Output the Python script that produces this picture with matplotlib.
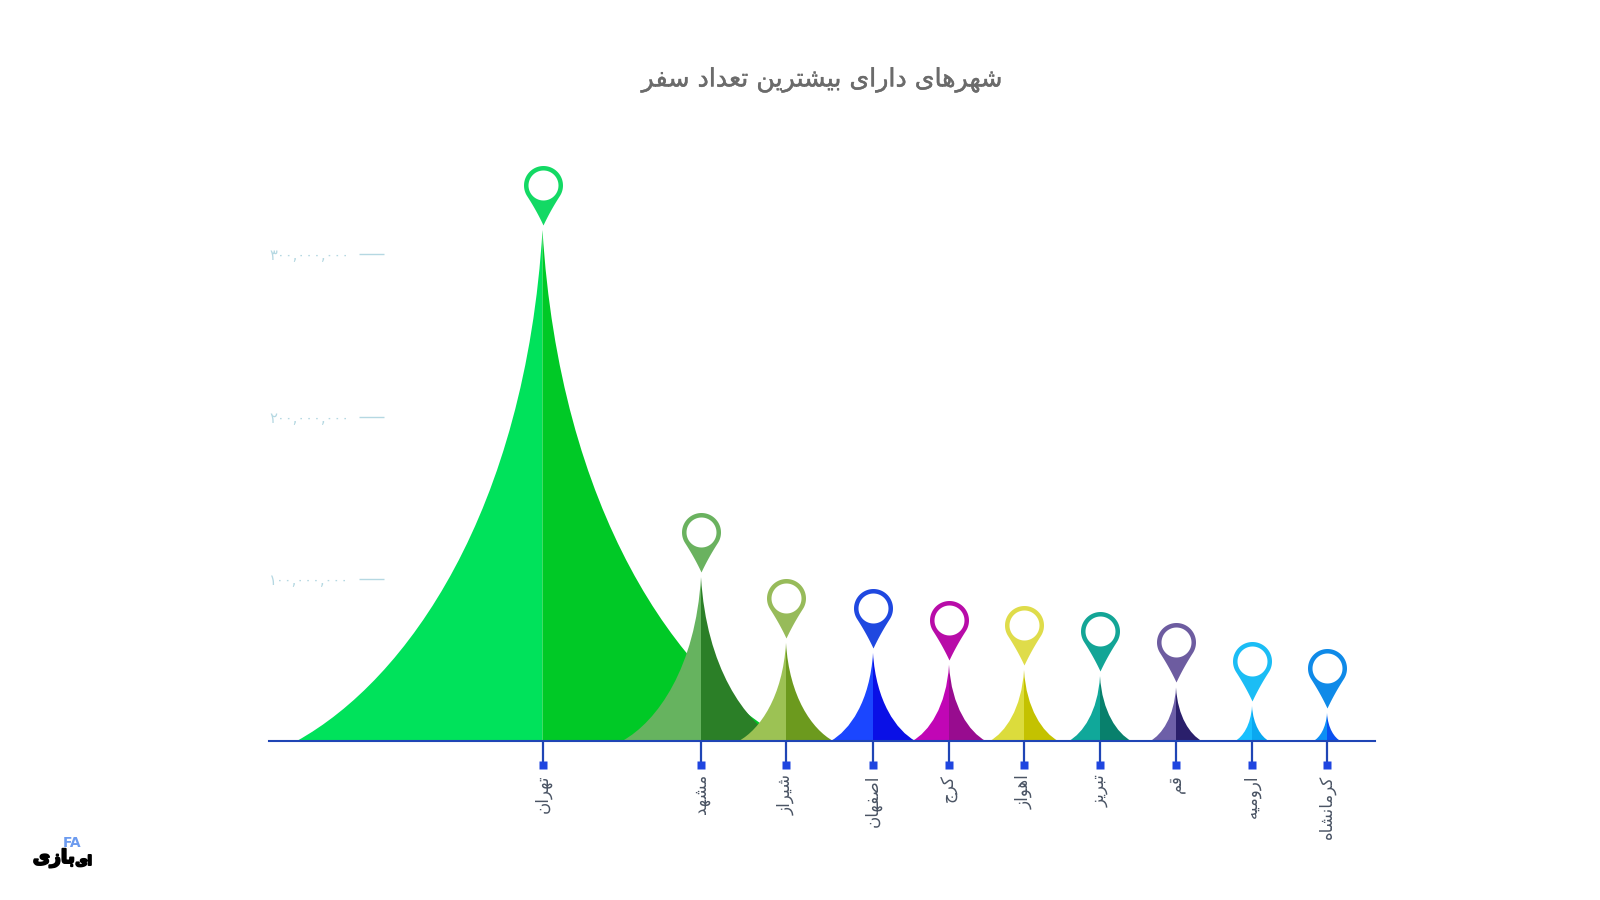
"""
شهرهای دارای بیشترین تعداد سفر — spike chart with map pins
"""
import numpy as np
import matplotlib
matplotlib.use("Agg")
import matplotlib.pyplot as plt
import matplotlib.patheffects as pe
from matplotlib.path import Path
from matplotlib.patches import PathPatch

plt.rcParams["font.family"] = ["DejaVu Sans"]

# data
TITLE = "شهرهای دارای بیشترین تعداد سفر"
CITIES = ["تهران", "مشهد", "شیراز", "اصفهان", "کرج",
          "اهواز", "تبریز", "قم", "ارومیه", "کرمانشاه"]
TRIPS = [315e6, 101e6, 60.5e6, 54.3e6, 47e6, 43.8e6, 40e6, 33e6, 21.6e6, 17.3e6]
Y_TICKS = [100000000, 200000000, 300000000]

# layout, in px of the 1600x900 canvas
CITY_X = [542.5, 701, 786, 873, 949, 1024, 1100, 1176, 1252, 1327]
BASE_Y = 741
AXIS_L, AXIS_R = 269, 1375
PX_PER_TRIP = 1.622e-6   # px of height per trip
W_PER_TRIP = 0.78e-6     # px of half width per trip

# colours
LEFT_COL = ["#00E25B", "#66B35F", "#9CC254", "#1B46FF", "#C106B5",
            "#DCDC3C", "#10A89A", "#6D5FA8", "#18C0FF", "#0D8FF5"]
RIGHT_COL = ["#00C926", "#2B7F27", "#6C9A1E", "#0A10E6", "#980C8F",
             "#C4C200", "#08806C", "#2A1F6B", "#0AA8F0", "#0A50F0"]
PIN_COL = ["#13D964", "#6AB25F", "#97BB5A", "#1F48E0", "#B80CA8",
           "#DFDC4A", "#13A596", "#6D5CA0", "#1BBDF5", "#0F8AE8"]
AXIS_COL = "#1F45B5"
SQUARE_COL = "#1F45E0"
YTICK_COL = "#B5D8E2"

# matplotlib has no Arabic shaping, so pick the joined forms by hand
FORMS = {"ا": 0xFE8D, "ب": 0xFE8F, "ت": 0xFE95, "ج": 0xFE9D, "د": 0xFEA9,
         "ر": 0xFEAD, "ز": 0xFEAF, "س": 0xFEB1, "ش": 0xFEB5, "ص": 0xFEB9,
         "ع": 0xFEC9, "ف": 0xFED1, "ق": 0xFED5, "م": 0xFEE1, "ن": 0xFEE5,
         "ه": 0xFEE9, "و": 0xFEED, "ک": 0xFB8E, "ی": 0xFBFC}
RIGHT_ONLY = "ادرزو"


def shape(text):
    out = []
    for i, ch in enumerate(text):
        if ch not in FORMS:
            out.append(ch)
            continue
        before = text[i - 1] if i > 0 else " "
        after = text[i + 1] if i + 1 < len(text) else " "
        join_prev = before in FORMS and before not in RIGHT_ONLY
        join_next = after in FORMS and ch not in RIGHT_ONLY
        form = int(join_prev) + 2 * int(join_next)  # 0 iso, 1 final, 2 init, 3 medial
        out.append(chr(FORMS[ch] + form))
    return "".join(out)[::-1]


def half_spike(x0, trips, side):
    w = trips * W_PER_TRIP * side
    verts = [(x0 - w, 0), (x0 - 0.55 * w, 0.12 * trips), (x0 - 0.07 * w, 0.45 * trips),
             (x0, trips), (x0, 0), (x0 - w, 0)]
    codes = [Path.MOVETO, Path.CURVE4, Path.CURVE4, Path.CURVE4, Path.LINETO, Path.CLOSEPOLY]
    return Path(verts, codes)


def pin_marker():
    # origin is the peak of the spike, units are px
    cy, r, hole = 45, 19.5, 15
    a = np.radians(np.linspace(-32, 212, 60))
    arc = np.column_stack([r * np.cos(a), cy + r * np.sin(a)])
    s = np.linspace(0, 1, 15)[:, None]
    tip = np.array([[0.0, 5.0]])
    ctrl_l = np.array([[-7.0, 20.0]])
    ctrl_r = np.array([[7.0, 20.0]])
    down = (1 - s) ** 2 * arc[-1] + 2 * s * (1 - s) * ctrl_l + s ** 2 * tip
    up = (1 - s) ** 2 * tip + 2 * s * (1 - s) * ctrl_r + s ** 2 * arc[0]
    outer = np.vstack([arc, down, up])
    b = np.radians(np.linspace(360, 0, 60))
    inner = np.column_stack([hole * np.cos(b), cy + hole * np.sin(b)])
    verts = np.vstack([outer, inner])
    codes = [Path.MOVETO] + [Path.LINETO] * (len(outer) - 1) + [Path.MOVETO] + [Path.LINETO] * (len(inner) - 1)
    return Path(verts, codes)


fig = plt.figure(figsize=(16, 9), dpi=100, facecolor="white")
top_px = 120
ax = fig.add_axes([AXIS_L / 1600, (900 - BASE_Y) / 900,
                   (AXIS_R - AXIS_L) / 1600, (BASE_Y - top_px) / 900])
ax.set_xlim(AXIS_L, AXIS_R)
ax.set_ylim(0, (BASE_Y - top_px) / PX_PER_TRIP)
ax.patch.set_alpha(0)

for sp in ["top", "right", "left"]:
    ax.spines[sp].set_visible(False)
ax.spines["bottom"].set_color(AXIS_COL)
ax.spines["bottom"].set_linewidth(1.5)
ax.spines["bottom"].set_zorder(50)

# spikes, later cities sit on top of earlier ones
for i, (x, v) in enumerate(zip(CITY_X, TRIPS)):
    ax.add_patch(PathPatch(half_spike(x, v, 1), fc=LEFT_COL[i], ec="none", zorder=2 + i))
    ax.add_patch(PathPatch(half_spike(x, v, -1), fc=RIGHT_COL[i], ec="none", zorder=2 + i))

# pins
pin = pin_marker()
pin_ms = 2 * np.abs(pin.vertices).max() * 72 / 100
for i, (x, v) in enumerate(zip(CITY_X, TRIPS)):
    ax.plot([x], [v], marker=pin, ms=pin_ms, mfc=PIN_COL[i], mec="none",
            ls="none", clip_on=False, zorder=30)

# x axis: long ticks ending in a small square, city names turned 90 degrees
ax.set_xticks(CITY_X, [shape(c) for c in CITIES], rotation=90,
              fontsize=12, color="#4A5464")
ax.tick_params(axis="x", length=17, width=1.6, color=AXIS_COL, pad=7)
for t in ax.get_xticklabels():
    t.set_va("top")
ax.plot(CITY_X, [-24 / PX_PER_TRIP] * len(CITY_X), ls="none", marker="s", ms=5.5,
        mfc=SQUARE_COL, mec="none", clip_on=False, zorder=40)

# y axis: ticks float at x=384, labels left aligned
ax.spines["left"].set_position(("data", 384))
ax.set_yticks(Y_TICKS, [f"{v:,}".translate(str.maketrans("0123456789", "۰۱۲۳۴۵۶۷۸۹")) for v in Y_TICKS],
              fontsize=10.5, color=YTICK_COL)
ax.tick_params(axis="y", length=18, width=1, color=YTICK_COL, pad=64.5)
for t in ax.get_yticklabels():
    t.set_ha("left")

fig.text(822 / 1600, 1 - 80 / 900, shape(TITLE), ha="center", va="center",
         fontsize=18.2, color="#6B6B6B",
         path_effects=[pe.withStroke(linewidth=0.3, foreground="#6B6B6B")])

# logo, bottom left
thick = [pe.withStroke(linewidth=1.4, foreground="black")]
fig.text(75 / 1600, 1 - 868 / 900, shape("بازی"), ha="right", va="bottom",
         fontsize=13.5, fontweight="bold", color="black", path_effects=thick)
fig.text(92 / 1600, 1 - 868 / 900, shape("ای"), ha="right", va="bottom",
         fontsize=9.5, fontweight="bold", color="black", path_effects=thick)
fig.text(63 / 1600, 1 - 850 / 900, "FA", ha="left", va="bottom",
         fontsize=10, fontweight="bold", color="#6C9BEF")

fig.savefig("out.png", dpi=100)
plt.close(fig)
